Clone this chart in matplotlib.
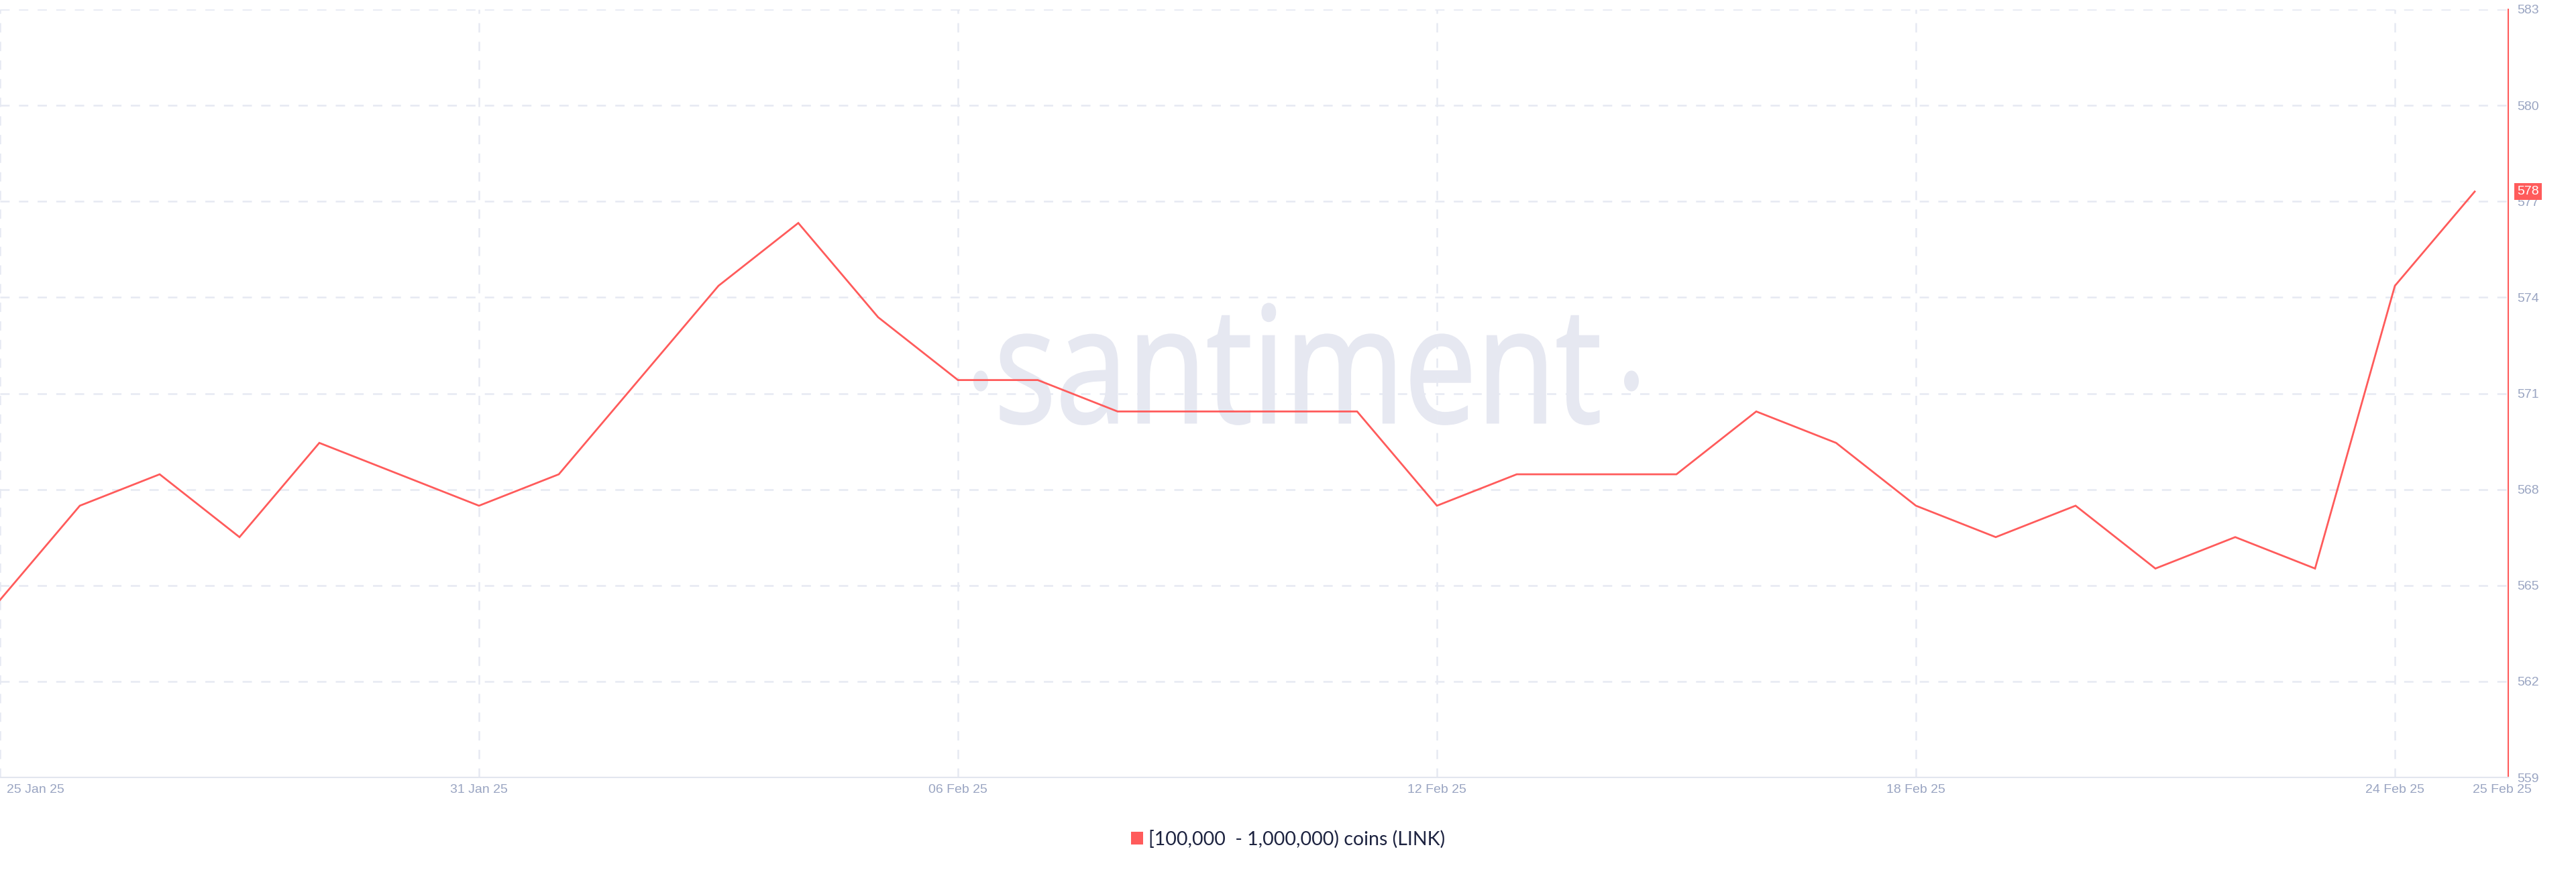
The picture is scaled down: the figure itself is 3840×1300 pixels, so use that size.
import numpy as np
import pandas as pd
import matplotlib
matplotlib.use("Agg")
import matplotlib.pyplot as plt
import matplotlib.dates as mdates
from matplotlib.textpath import TextPath
from matplotlib.patches import PathPatch, Patch, Ellipse
from matplotlib.font_manager import FontProperties
from matplotlib.transforms import Affine2D, ScaledTranslation, blended_transform_factory

# ---------------- data ----------------
start_date = "2025-01-25"
values = [565, 568, 569, 567, 570, 569, 568, 569, 572, 575, 577, 574, 572, 572,
          571, 571, 571, 571, 568, 569, 569, 569, 571, 570, 568, 567, 568, 566,
          567, 566, 575, 578]
tick_dates = ["2025-01-25", "2025-01-31", "2025-02-06", "2025-02-12",
              "2025-02-18", "2025-02-24"]
x_tick_labels = ["25 Jan 25", "31 Jan 25", "06 Feb 25", "12 Feb 25",
                 "18 Feb 25", "24 Feb 25", "25 Feb 25"]
y_tick_labels = ["559", "562", "565", "568", "571", "574", "577", "580", "583"]
last_value_label = "578"
legend_label = "[100,000  - 1,000,000) coins (LINK)"
watermark = "santiment"

# ---------------- style ----------------
RED = "#ff5b5b"
GRID = "#e6e9f2"
TICK = "#9aa5c2"
WM = "#e6e8f1"
plt.rcParams["lines.scale_dashes"] = False
plt.rcParams["font.family"] = ["Liberation Sans", "DejaVu Sans"]

W, H, DPI = 3840, 1300, 100
fig = plt.figure(figsize=(W / DPI, H / DPI), dpi=DPI, facecolor="white")
ax = fig.add_axes([0.0, (H - 1159) / H, 3739 / W, (1159 - 14) / H])
ax.set_facecolor("white")

dates = pd.date_range(start_date, periods=len(values), freq="D")
x0 = mdates.date2num(dates[0])
ax.set_xlim(x0, x0 + 31.42)
ymin, ymax = 559.35, 583.80
ax.set_ylim(ymin, ymax)

ax.plot(dates, values, color=RED, lw=2.0, zorder=3, solid_joinstyle="miter")

# grid
ax.set_axisbelow(True)
ax.set_xticks(pd.to_datetime(tick_dates))
ax.set_xticklabels([""] + x_tick_labels[1:6])
ax.set_yticks(np.linspace(ymin, ymax, len(y_tick_labels)))
ax.set_yticklabels(y_tick_labels)
ax.grid(True, axis="both", color=GRID, lw=1.8, linestyle=(0, (10, 10)))

ax.yaxis.tick_right()
ax.tick_params(axis="y", length=0, pad=9.5, labelsize=14, labelcolor=TICK)
ax.tick_params(axis="x", length=0, pad=7, labelsize=14, labelcolor=TICK)

for s in ["left", "top"]:
    ax.spines[s].set_visible(False)
ax.spines["right"].set_color(RED)
ax.spines["right"].set_linewidth(1.5)
ax.spines["bottom"].set_color("#e2e6ef")
ax.spines["bottom"].set_linewidth(1.5)

# end x labels
bt = blended_transform_factory(ax.transAxes, ax.transAxes)
ax.text(0.0, 0.0, x_tick_labels[0], fontsize=14, color=TICK, ha="left", va="top",
        transform=bt + ScaledTranslation(10 / DPI, -7 / 72, fig.dpi_scale_trans))
ax.text(1.0, 0.0, x_tick_labels[6], fontsize=14, color=TICK, ha="center", va="top",
        transform=bt + ScaledTranslation(-9 / DPI, -7 / 72, fig.dpi_scale_trans))

# last value badge
bv = blended_transform_factory(ax.transAxes, ax.transData)
ax.text(1.0, values[-1], last_value_label, fontsize=14, color="white", ha="left",
        va="center", zorder=5, clip_on=False,
        transform=bv + ScaledTranslation(13 / DPI, 0, fig.dpi_scale_trans),
        bbox=dict(boxstyle="square,pad=0.22", fc=RED, ec="none"))

# watermark
fp = FontProperties(family="Open Sans")
tp = TextPath((0, 0), watermark, size=100, prop=fp)
bb = tp.get_extents()
wx0, wx1 = 1492, 2383
top_px, base_px = 453, 630
tr = (Affine2D().translate(-bb.x0, 0)
      .scale((wx1 - wx0) / bb.width, (base_px - top_px) / bb.y1)
      .translate(wx0, H - base_px))
ax.add_artist(PathPatch(tp, transform=tr, fc=WM, ec=WM, lw=2.2, zorder=0.3,
                        clip_on=False))
for cx in (1462, 2432):
    ax.add_artist(Ellipse((cx, H - 568), 22, 31, transform=Affine2D(), fc=WM,
                          ec="none", zorder=0.3, clip_on=False))

# legend
leg = fig.legend(handles=[Patch(facecolor=RED, edgecolor="none")], labels=[legend_label],
                 loc="center", bbox_to_anchor=(0.5, (H - 1251) / H), frameon=False,
                 prop=FontProperties(family="Lato", size=20.5),
                 handlelength=0.64, handleheight=0.64, handletextpad=0.3)
for t in leg.get_texts():
    t.set_color("#1d2340")

fig.savefig("out.png", dpi=DPI, facecolor="white")
